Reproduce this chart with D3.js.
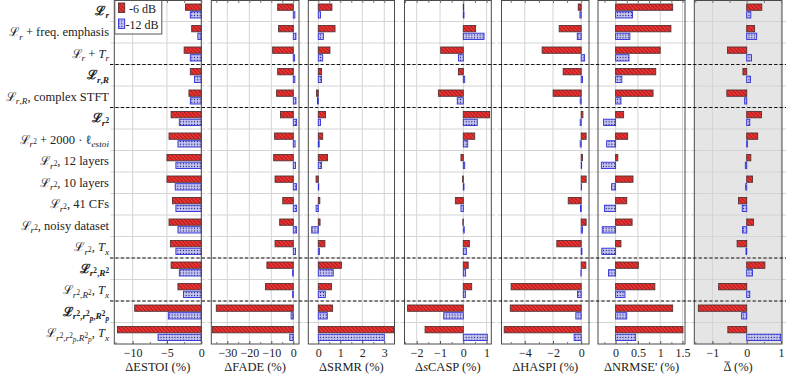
<!DOCTYPE html>
<html>
<head>
<meta charset="utf-8">
<script src="https://cdn.jsdelivr.net/npm/d3@7"></script>
<style>
  body { margin: 0; background: #fff; }
  svg { display: block; }
  text { font-family: "Liberation Serif", "DejaVu Serif", serif; fill: #222; white-space: pre; }
</style>
</head>
<body>
<svg id="chart" width="788" height="378"></svg>
<script>
// rows, top to bottom (mini TeX: $..$ math, _{} sub, ^{} sup)
const rowLabels = [
  "$ℒ_{r}$",
  "$ℒ_{r}$ + freq. emphasis",
  "$ℒ_{r}$ + $T_{r}$",
  "$ℒ_{r,R}$",
  "$ℒ_{r,R}$, complex STFT",
  "$ℒ_{r^{2}}$",
  "$ℒ_{r^{2}}$ + 2000 · $ℓ_{estoi}$",
  "$ℒ_{r^{2}}$, 12 layers",
  "$ℒ_{r^{2}}$, 10 layers",
  "$ℒ_{r^{2}}$, 41 CFs",
  "$ℒ_{r^{2}}$, noisy dataset",
  "$ℒ_{r^{2}}$, $T_{x}$",
  "$ℒ_{r^{2},R^{2}}$",
  "$ℒ_{r^{2},R^{2}}$, $T_{x}$",
  "$ℒ_{r^{2},r^{2}_{p},R^{2}_{p}}$",
  "$ℒ_{r^{2},r^{2}_{p},R^{2}_{p}}$, $T_{x}$"
];
const boldRows = [0, 3, 5, 12, 14];
const groupBreaks = [3, 5, 12, 14];
const series = ["-6 dB", "-12 dB"];

const estoi6  = [-2.3, -1.4, -2.5, -1.6, -1.8, -4.4, -4.7, -5.0, -5.0, -4.2, -4.7, -4.5, -4.4, -3.4, -9.7, -12.2];
const estoi12 = [-1.6, -0.5, -1.6, -1.0, -1.6, -3.2, -3.4, -3.7, -3.8, -3.7, -3.4, -3.7, -3.2, -2.6, -4.8, -6.3];

const fade6  = [-7.1, -6.7, -9.4, -7.1, -7.6, -5.8, -8.5, -8.9, -8.3, -4.8, -6.2, -8.3, -12.0, -12.6, -35.0, -36.8];
const fade12 = [0.7, 1.2, 0.6, 0.7, 1.2, 1.5, 0.8, 1.0, 1.5, 1.5, 1.5, 1.0, -0.3, -0.3, -1.0, -1.6];

const srmr6  = [0.62, 0.76, 0.53, 0.15, -0.08, 0.33, 0.2, 0.42, -0.1, 0.07, 0.08, 0.3, 1.05, 0.6, 0.65, 3.42];
const srmr12 = [0.1, 0.23, 0.2, 0.15, -0.04, 0.1, 0.04, 0.15, 0.02, -0.1, -0.3, 0.05, 0.68, 0.32, 0.41, 3.0];

const scasp6  = [0.02, 0.53, -0.97, -0.21, -1.07, 1.13, 0.49, -0.1, -0.03, -0.34, -0.02, 0.26, 0.21, 0.36, -2.39, -1.64];
const scasp12 = [0.03, 0.89, -0.21, 0.06, -0.26, 0.6, 0.19, 0.06, 0.03, -0.1, 0.04, 0.13, 0.1, 0.09, -0.84, 1.03];

const haspi6  = [-0.21, -1.56, -2.77, -1.28, -1.99, 0.12, 0.35, 0.09, 0.35, -0.92, 0.35, -1.73, 0.33, -4.97, -5.03, -5.46];
const haspi12 = [-0.09, -0.28, 0.24, 0.09, -0.07, -0.07, -0.07, 0.03, 0.02, -0.05, 0.09, 0.05, -0.02, -0.26, -0.38, -0.5];

const nrmse6  = [1.28, 1.24, 1.0, 0.9, 0.84, 0.18, 0.27, 0.05, 0.39, 0.25, 0.37, 0.12, 0.51, 0.88, 1.28, 1.51];
const nrmse12 = [0.38, 0.32, 0.3, 0.14, 0.12, -0.27, -0.2, -0.32, -0.09, -0.25, -0.3, -0.31, -0.16, 0.21, 0.25, 0.45];

const dbar6  = [0.44, 0.23, -0.56, -0.11, -0.58, 0.43, 0.32, 0.12, 0.17, -0.24, 0.2, -0.28, 0.53, -0.82, -1.41, -0.55];
const dbar12 = [0.12, 0.29, 0.14, 0.11, -0.06, 0.09, 0.02, -0.04, -0.03, -0.13, -0.12, -0.02, 0.17, 0.09, -0.15, 0.99];

const metricNames = ["ΔESTOI (%)", "ΔFADE (%)", "ΔSRMR (%)", "Δ$s$CASP (%)", "ΔHASPI (%)", "ΔNRMSE' (%)", "Δ (%)"];
const tickSets = [[-10, -5, 0], [-30, -20, -10, 0], [0, 1, 2, 3], [-2, -1, 0, 1], [-4, -2, 0], [0, 0.5, 1, 1.5], [-1, 0, 1]];

// panel layout: pixel range and axis range
const panels = [
  { a: estoi6, b: estoi12, px: [114.3, 201.3], dom: [-12.67, 0] },
  { a: fade6,  b: fade12,  px: [211.3, 299],   dom: [-37.27, 2.59] },
  { a: srmr6,  b: srmr12,  px: [308.3, 394.5], dom: [-0.4545, 3.464] },
  { a: scasp6, b: scasp12, px: [404.5, 491.3], dom: [-2.524, 1.202] },
  { a: haspi6, b: haspi12, px: [501.5, 589],   dom: [-5.652, 0.553] },
  { a: nrmse6, b: nrmse12, px: [598, 685],     dom: [-0.3946, 1.556] },
  { a: dbar6,  b: dbar12,  px: [694.3, 782],   dom: [-1.528, 1.029], shade: true, bar: true }
].map((p, i) => Object.assign(p, { name: metricNames[i], ticks: tickSets[i] }));

const svg = d3.select("#chart");
const plotTop = 0, plotBottom = 344;

const defs = svg.append("defs");
const hatch = defs.append("pattern").attr("id", "hatchRed")
  .attr("patternUnits", "userSpaceOnUse").attr("width", 2.8).attr("height", 2.8)
  .attr("patternTransform", "rotate(-45)");
hatch.append("rect").attr("width", 2.8).attr("height", 2.8).attr("fill", "#f23434");
hatch.append("line").attr("x1", 0.6).attr("x2", 0.6).attr("y1", 0).attr("y2", 2.8)
  .attr("stroke", "#7a1010").attr("stroke-width", 0.7);
const dots = defs.append("pattern").attr("id", "dotsBlue")
  .attr("patternUnits", "userSpaceOnUse").attr("width", 2.8).attr("height", 2.8);
dots.append("rect").attr("width", 2.8).attr("height", 2.8).attr("fill", "#c4c4f6");
dots.append("circle").attr("cx", 1.4).attr("cy", 1.4).attr("r", 0.6).attr("fill", "#101050");

const y = d3.scaleBand().domain(d3.range(rowLabels.length)).range([plotTop, plotBottom]);
const ySeries = d3.scaleBand().domain(series).range([4, 18]).paddingInner(0.18);
const fills = { "-6 dB": "url(#hatchRed)", "-12 dB": "url(#dotsBlue)" };
const strokes = { "-6 dB": "#553333", "-12 dB": "#2f2fd8" };

const fmt = d => (d < 0 ? "−" + Math.abs(d) : String(d));

// mini TeX parser -> tokens {t, level, it}
function parseLabel(s) {
  const out = [];
  function pushText(txt, level, math) {
    if (!math) { out.push({ t: txt, level, it: false }); return; }
    txt.match(/[A-Za-z]+|[^A-Za-z]+/g).forEach(run => out.push({ t: run, level, it: /[A-Za-z]/.test(run) }));
  }
  function walk(str, level, math) {
    let i = 0, buf = "";
    const flush = () => { if (buf) { pushText(buf, level, math); buf = ""; } };
    while (i < str.length) {
      const c = str[i];
      if (c === "$") { flush(); math = !math; i++; continue; }
      if (c === "_" || c === "^") {
        flush();
        let arg, j = i + 1;
        if (str[j] === "{") {
          let d = 1, k = j + 1;
          while (d) { if (str[k] === "{") d++; else if (str[k] === "}") d--; k++; }
          arg = str.slice(j + 1, k - 1); i = k;
        } else { arg = str[j]; i = j + 1; }
        walk(arg, level + (c === "_" ? "b" : "p"), math);
        continue;
      }
      buf += c; i++;
    }
    flush();
  }
  walk(s, "", false);
  return out;
}
const scaleByLevel = [1, 0.74, 0.58];
function levelOffset(level) {
  let off = 0;
  for (let k = 0; k < level.length; k++) {
    if (level[k] === "b") off += k === 0 ? 3.2 : 1.8;
    else off -= k === 0 ? 4.5 : 3.0;
  }
  return off;
}
function drawTex(sel, str, x, yBase, anchor, bold, base) {
  const t = sel.append("text").attr("x", x).attr("y", yBase).attr("text-anchor", anchor)
    .style("font-weight", bold ? "bold" : null);
  let cur = 0;
  parseLabel(str).forEach(tok => {
    const off = levelOffset(tok.level);
    const fs = base * scaleByLevel[Math.min(tok.level.length, 2)];
    t.append("tspan").attr("dy", off - cur).attr("font-size", fs)
      .style("font-style", tok.it ? "italic" : null).text(tok.t);
    cur = off;
  });
  return t;
}

panels.forEach(p => {
  const x = d3.scaleLinear().domain(p.dom).range(p.px);
  const g = svg.append("g");
  const [x0, x1] = p.px;

  if (p.shade) g.append("rect").attr("x", x0).attr("y", plotTop).attr("width", x1 - x0)
    .attr("height", plotBottom - plotTop).attr("fill", "#e5e5e5");

  // grid
  g.selectAll(".vgrid").data(p.ticks).join("line")
    .attr("x1", d => x(d)).attr("x2", d => x(d)).attr("y1", plotTop).attr("y2", plotBottom)
    .attr("stroke", "#d4d4d4").attr("stroke-width", 1);
  g.selectAll(".hgrid").data(d3.range(1, rowLabels.length)).join("line")
    .attr("x1", x0 - 4).attr("x2", x1 + 4).attr("y1", d => y(d)).attr("y2", d => y(d))
    .attr("stroke", "#d4d4d4").attr("stroke-width", 1);

  // bars
  series.forEach((s, si) => {
    const vals = si === 0 ? p.a : p.b;
    g.selectAll(null).data(vals).join("rect")
      .attr("x", d => x(Math.min(0, d)))
      .attr("width", d => Math.abs(x(d) - x(0)))
      .attr("y", (d, i) => y(i) + ySeries(s))
      .attr("height", ySeries.bandwidth())
      .attr("fill", fills[s]).attr("stroke", strokes[s]).attr("stroke-width", 0.9);
  });

  // frame
  g.append("rect").attr("x", x0).attr("y", plotTop + 0.5).attr("width", x1 - x0)
    .attr("height", plotBottom - plotTop - 0.5).attr("fill", "none").attr("stroke", "#4a4a4a").attr("stroke-width", 1);

  // ticks (major labelled at bottom, plus minor)
  const step = p.ticks[1] - p.ticks[0];
  const minor = d3.range(Math.ceil(p.dom[0] / (step / 2)), Math.floor(p.dom[1] / (step / 2)) + 1)
    .map(k => k * step / 2).filter(v => !p.ticks.some(t => Math.abs(t - v) < 1e-9));
  const ax = g.append("g").attr("transform", `translate(0,${plotBottom})`)
    .call(d3.axisBottom(x).tickValues(p.ticks).tickFormat(fmt).tickSizeInner(-3).tickSizeOuter(0).tickPadding(4));
  ax.select(".domain").remove();
  ax.selectAll(".tick line").attr("stroke", "#555");
  ax.selectAll("text").attr("font-family", null).attr("font-size", 12).attr("fill", "#222");
  g.append("g").attr("transform", `translate(0,${plotBottom})`)
    .call(d3.axisBottom(x).tickValues(minor).tickFormat("").tickSizeInner(-2).tickSizeOuter(0))
    .call(a => a.select(".domain").remove()).selectAll("line").attr("stroke", "#777");
  g.append("g").attr("transform", `translate(0,${plotTop + 0.5})`)
    .call(d3.axisTop(x).tickValues(p.ticks.concat(minor)).tickFormat("").tickSizeInner(-2.5).tickSizeOuter(0))
    .call(a => a.select(".domain").remove()).selectAll("line").attr("stroke", "#777");

  const title = drawTex(g, p.name, (x0 + x1) / 2, 371, "middle", false, 12.5);
  if (p.bar) {
    // bar over the Delta
    const r = title.node().getExtentOfChar(0);
    g.append("line").attr("x1", r.x + 1).attr("x2", r.x + r.width - 1)
      .attr("y1", r.y + 2).attr("y2", r.y + 2).attr("stroke", "#222").attr("stroke-width", 0.8);
  }
});

// group separators
svg.selectAll(".sep").data(groupBreaks).join("line")
  .attr("x1", 110).attr("x2", 786).attr("y1", d => y(d)).attr("y2", d => y(d))
  .attr("stroke", "#111").attr("stroke-width", 1).attr("stroke-dasharray", "3.2,2.2");

// row labels
const lab = svg.append("g");
rowLabels.forEach((s, i) => drawTex(lab, s, 109, y(i) + y.bandwidth() / 2 + 4.2, "end", boldRows.includes(i), 12.5));

// legend
const leg = svg.append("g");
leg.append("rect").attr("x", 114.8).attr("y", 0.5).attr("width", 47).attr("height", 33.5)
  .attr("fill", "#fff").attr("stroke", "#555").attr("stroke-width", 1);
series.forEach((s, i) => {
  leg.append("rect").attr("x", 118.5).attr("y", 3 + i * 16).attr("width", 6.2).attr("height", 9.5)
    .attr("fill", fills[s]).attr("stroke", strokes[s]).attr("stroke-width", 0.9);
  leg.append("text").attr("x", i === 0 ? 129 : 125.5).attr("y", 13 + i * 15.5)
    .attr("font-size", 12).text(s);
});
</script>
</body>
</html>
